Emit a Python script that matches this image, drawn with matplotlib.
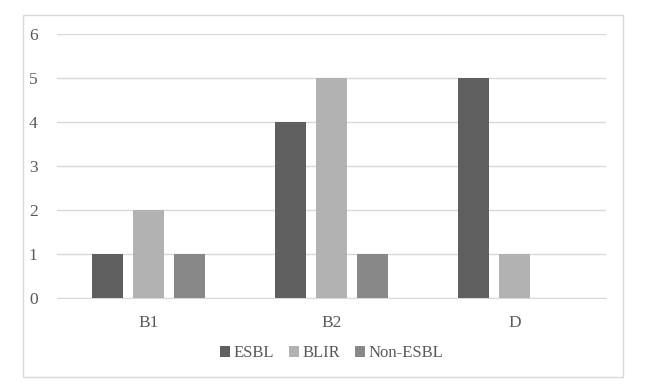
import matplotlib
matplotlib.use("Agg")
import matplotlib.pyplot as plt
import numpy as np

categories = ["B1", "B2", "D"]
esbl = [1, 4, 5]
blir = [2, 5, 1]
non_esbl = [1, 1, 0]
series_names = ["ESBL", "BLIR", "Non-ESBL"]
colors = ["#5f5f5f", "#b2b2b2", "#888888"]

plt.rcParams['font.family'] = ['Liberation Serif', 'DejaVu Serif']

fig = plt.figure(figsize=(6.48, 3.87), dpi=100)
ax = fig.add_axes([0.088, 0.230, 0.847, 0.682])

# outer chart border
fig.patches.append(plt.Rectangle((0.0355, 0.0258), 0.926, 0.935, transform=fig.transFigure,
                                 fill=False, edgecolor="#d9d9d9", linewidth=1))

x = np.arange(len(categories))
width = 0.17
offsets = [-0.224, 0, 0.224]
for vals, off, col, name in zip([esbl, blir, non_esbl], offsets, colors, series_names):
    ax.bar(x + off, vals, width, color=col, label=name, zorder=3)

ax.set_xlim(-0.5, 2.5)
ax.set_ylim(0, 6)
ax.set_yticks(range(0, 7))
ax.set_xticks(x)
ax.set_xticklabels(categories)
ax.yaxis.grid(True, color="#d9d9d9", linewidth=1, zorder=0)
for s in ["top", "right", "left"]:
    ax.spines[s].set_visible(False)
ax.spines["bottom"].set_color("#d9d9d9")
ax.tick_params(axis="both", length=0, labelsize=12.5, colors="#595959")
ax.tick_params(axis="y", pad=14)
ax.tick_params(axis="x", pad=12)

ax.legend(loc="center", bbox_to_anchor=(0.5, -0.21), ncol=3, frameon=False,
          fontsize=12, handlelength=0.6, handleheight=0.6, handletextpad=0.2,
          columnspacing=0.9, labelcolor="#595959")

fig.savefig("out.png", dpi=100)
